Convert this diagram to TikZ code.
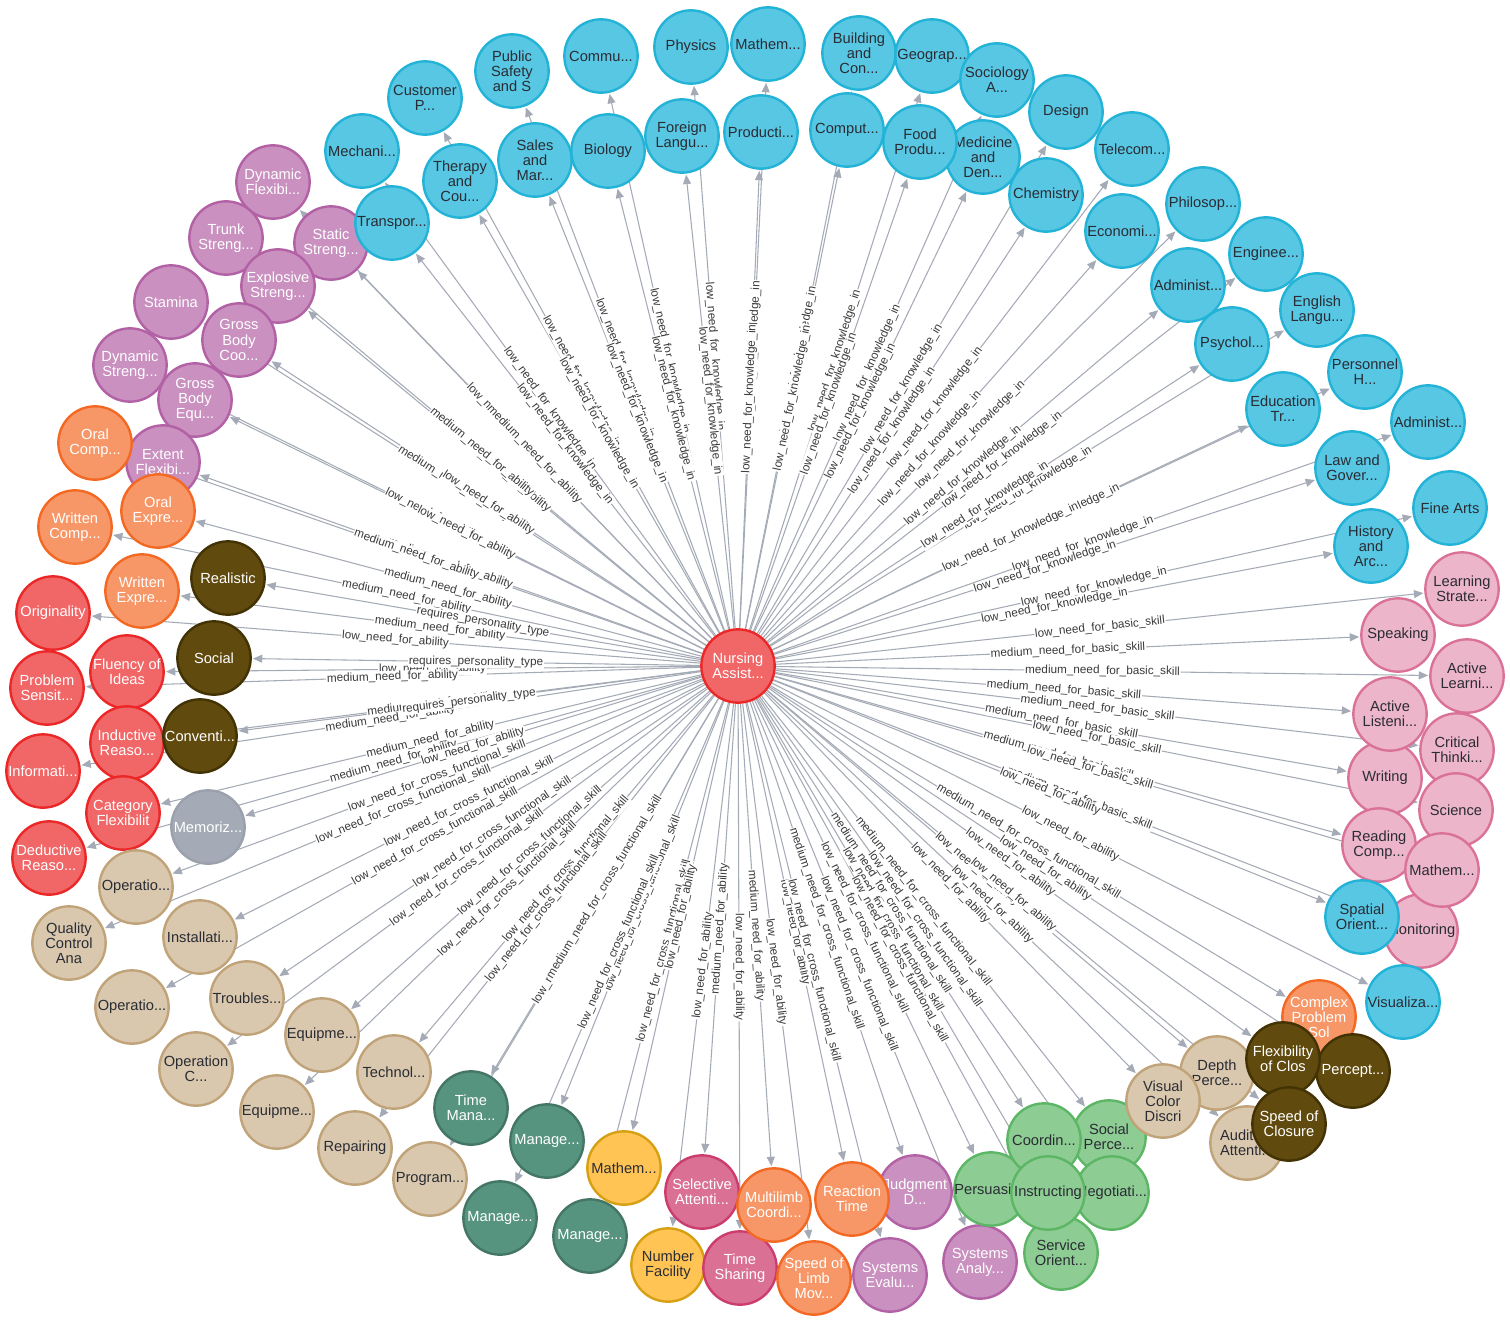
\documentclass[tikz,border=0pt]{standalone}
\usepackage{fontspec}
\setmainfont{Liberation Sans}
\usetikzlibrary{arrows.meta}
\definecolor{cKnF}{HTML}{57C7E3}\definecolor{cKnD}{HTML}{23B3D7}
\definecolor{cBsF}{HTML}{EDB5C9}\definecolor{cBsD}{HTML}{DA7298}
\definecolor{cPhF}{HTML}{C990C0}\definecolor{cPhD}{HTML}{B261A5}
\definecolor{cOgF}{HTML}{F79767}\definecolor{cOgD}{HTML}{F36924}
\definecolor{cRdF}{HTML}{F16667}\definecolor{cRdD}{HTML}{EB2728}
\definecolor{cBrF}{HTML}{604A0E}\definecolor{cBrD}{HTML}{423204}
\definecolor{cGyF}{HTML}{A5ABB6}\definecolor{cGyD}{HTML}{9AA1AC}
\definecolor{cTnF}{HTML}{D9C8AE}\definecolor{cTnD}{HTML}{C0A378}
\definecolor{cDgF}{HTML}{569480}\definecolor{cDgD}{HTML}{447666}
\definecolor{cYlF}{HTML}{FFC454}\definecolor{cYlD}{HTML}{D7A013}
\definecolor{cDpF}{HTML}{DA7194}\definecolor{cDpD}{HTML}{CC3C6C}
\definecolor{cLgF}{HTML}{8DCC93}\definecolor{cLgD}{HTML}{5DB665}
\definecolor{cDark}{HTML}{2A2C34}
\definecolor{cEdge}{HTML}{A5ABB6}
\definecolor{cLab}{HTML}{3A3A3A}
\pgfdeclarelayer{bg}\pgfdeclarelayer{edges}\pgfdeclarelayer{elabels}
\pgfsetlayers{bg,edges,elabels,main}
\tikzset{
  nb/.style={circle, minimum size=55pt, inner sep=0pt, line width=1.8pt},
  nt/.style={draw=none, fill=none, inner sep=0pt, align=center, font=\fontsize{11}{11.4}\selectfont},
  kn/.style={fill=cKnF, draw=cKnD, text=cDark},
  bs/.style={fill=cBsF, draw=cBsD, text=cDark},
  ph/.style={fill=cPhF, draw=cPhD, text=white},
  og/.style={fill=cOgF, draw=cOgD, text=white},
  rd/.style={fill=cRdF, draw=cRdD, text=white},
  br/.style={fill=cBrF, draw=cBrD, text=white},
  gy/.style={fill=cGyF, draw=cGyD, text=white},
  tn/.style={fill=cTnF, draw=cTnD, text=cDark},
  dg/.style={fill=cDgF, draw=cDgD, text=white},
  yl/.style={fill=cYlF, draw=cYlD, text=cDark},
  dp/.style={fill=cDpF, draw=cDpD, text=white},
  lg/.style={fill=cLgF, draw=cLgD, text=cDark},
  edgeline/.style={draw=cEdge, line width=0.8pt, -{Triangle[length=7pt,width=6pt]}, shorten >=0.8pt},
  elab/.style={font=\fontsize{8.8}{9.5}\selectfont, text=cLab, fill=white, inner sep=0.6pt}
}
\newcommand\mknode[5]{\node[nb,#4] (#1) at (#2,#3) {}; \node[#4,nt] at (#1.center) {#5};}
\def\lk{low\_need\_for\_knowledge\_in}
\def\la{low\_need\_for\_ability}
\def\ma{medium\_need\_for\_ability}
\def\lb{low\_need\_for\_basic\_skill}
\def\mb{medium\_need\_for\_basic\_skill}
\def\lc{low\_need\_for\_cross\_functional\_skill}
\def\mc{medium\_need\_for\_cross\_functional\_skill}
\def\rp{requires\_personality\_type}
\def\edgelist{cp/\lk, ps/\lk, cm/\lk, phy/\lk, mth/\lk, bld/\lk, geo/\lk, sog/\lk, des/\lk, tel/\lk,
 mec/\lk, thr/\lk, sal/\lk, bio/\lk, frl/\lk, prd/\lk, cmp/\lk, med/\lk, fdp/\lk, chm/\lk, trn/\lk,
 eco/\lk, phl/\lk, eng/\lk, adA/\lk, enl/\lk, psy/\lk, pers/\lk, edu/\lk, adB/\lk, law/\lk, fin/\lk, his/\lk,
 lrn/\lb, spk/\mb, alr/\mb, alis/\mb, crt/\mb, wri/\mb, sci/\lb, rdc/\mb, mpk/\lb, mon/\mb, spo/\la, vis/\la,
 dfx/\la, stt/\ma, exp/\la, trk/\ma, sta/\ma, gbc/\la, dst/\la, gbe/\la, ext/\ma, ocp/\ma, oex/\ma, wcp/\ma,
 wex/\ma, org/\la, flu/\la, prs/\ma, ind/\ma, inf/\ma, cat/\ma, ded/\ma, mem/\la,
 rea/\rp, socl/\rp, con/\rp,
 opa/\lc, qca/\lc, ins/\lc, opb/\lc, trb/\lc, opc/\lc, eqa/\lc, eqb/\lc, tec/\lc, rep/\lc, prg/\lc,
 tmm/\mc, mga/\lc, mgb/\lc, mgc/\lc,
 mty/\la, num/\la, sel/\ma, tsh/\la, mlt/\ma, spl/\la, rct/\la, jdg/\mc, sev/\lc, san/\lc,
 prsu/\lc, crd/\mc, sop/\mc, inst/\lc, neg/\lc, svc/\lc,
 vcd/\la, dep/\la, aud/\la, flc/\la, spc/\la, pct/\la, cps/\mc}
\begin{document}
\begin{tikzpicture}[x=0.75pt,y=-0.75pt]
\useasboundingbox (0,0) rectangle (1510,1320);
\begin{pgfonlayer}{bg}
\fill[white] (0,0) rectangle (1510,1320);
\end{pgfonlayer}
% knowledge (top)
\mknode{cp}{425}{98}{kn}{Customer\\P...}
\mknode{ps}{512}{71}{kn}{Public\\Safety\\and S}
\mknode{cm}{601}{56}{kn}{Commu...}
\mknode{phy}{691}{47}{kn}{Physics}
\mknode{mth}{768}{44}{kn}{Mathem...}
\mknode{bld}{859}{53}{kn}{Building\\and\\Con...}
\mknode{geo}{932}{56}{kn}{Geograp...}
\mknode{sog}{997}{80}{kn}{Sociology\\A...}
\mknode{des}{1066}{112}{kn}{Design}
\mknode{tel}{1132}{149}{kn}{Telecom...}
\mknode{mec}{362}{151}{kn}{Mechani...}
\mknode{thr}{460}{181}{kn}{Therapy\\and\\Cou...}
\mknode{sal}{535}{160}{kn}{Sales\\and\\Mar...}
\mknode{bio}{608}{151}{kn}{Biology}
\mknode{frl}{682}{136}{kn}{Foreign\\Langu...}
\mknode{prd}{761}{132}{kn}{Producti...}
\mknode{cmp}{847}{130}{kn}{Comput...}
\mknode{med}{983}{157}{kn}{Medicine\\and\\Den...}
\mknode{fdp}{920}{142}{kn}{Food\\Produ...}
\mknode{chm}{1046}{195}{kn}{Chemistry}
\mknode{eco}{1122}{231}{kn}{Economi...}
\mknode{phl}{1203}{204}{kn}{Philosop...}
\mknode{eng}{1266}{254}{kn}{Enginee...}
\mknode{adA}{1188}{285}{kn}{Administ...}
\mknode{enl}{1317}{310}{kn}{English\\Langu...}
\mknode{psy}{1232}{344}{kn}{Psychol...}
\mknode{pers}{1365}{372}{kn}{Personnel\\H...}
\mknode{edu}{1283}{409}{kn}{Education\\Tr...}
\mknode{adB}{1428}{422}{kn}{Administ...}
\mknode{law}{1352}{468}{kn}{Law and\\Gover...}
\mknode{fin}{1450}{508}{kn}{Fine Arts}
\mknode{his}{1371}{546}{kn}{History\\and\\Arc...}
% basic skills (right)
\mknode{lrn}{1462}{589}{bs}{Learning\\Strate...}
\mknode{spk}{1398}{635}{bs}{Speaking}
\mknode{alr}{1467}{676}{bs}{Active\\Learni...}
\mknode{crt}{1457}{750}{bs}{Critical\\Thinki...}
\mknode{wri}{1385}{778}{bs}{Writing}
\mknode{alis}{1390}{714}{bs}{Active\\Listeni...}
\mknode{sci}{1456}{810}{bs}{Science}
\mknode{rdc}{1379}{845}{bs}{Reading\\Comp...}
\mknode{mon}{1421}{931}{bs}{Monitoring}
\mknode{mpk}{1442}{870}{bs}{Mathem...}
\mknode{spo}{1362}{917}{kn}{Spatial\\Orient...}
\mknode{vis}{1403}{1002}{kn}{Visualiza...}
% abilities (left)
\mknode{dfx}{273}{182}{ph}{Dynamic\\Flexibi...}
\mknode{trk}{226}{238}{ph}{Trunk\\Streng...}
\mknode{stt}{331}{243}{ph}{Static\\Streng...}
\mknode{trn}{392}{223}{kn}{Transpor...}
\mknode{exp}{278}{286}{ph}{Explosive\\Streng...}
\mknode{sta}{171}{302}{ph}{Stamina}
\mknode{gbc}{239}{340}{ph}{Gross\\Body\\Coo...}
\mknode{dst}{130}{365}{ph}{Dynamic\\Streng...}
\mknode{gbe}{195}{400}{ph}{Gross\\Body\\Equ...}
\mknode{ext}{163}{462}{ph}{Extent\\Flexibi...}
\mknode{ocp}{95}{443}{og}{Oral\\Comp...}
\mknode{wcp}{75}{527}{og}{Written\\Comp...}
\mknode{oex}{158}{511}{og}{Oral\\Expre...}
\mknode{wex}{142}{591}{og}{Written\\Expre...}
\mknode{org}{53}{613}{rd}{Originality}
\mknode{rea}{228}{578}{br}{Realistic}
\mknode{prs}{47}{688}{rd}{Problem\\Sensit...}
\mknode{flu}{127}{672}{rd}{Fluency of\\Ideas}
\mknode{socl}{214}{658}{br}{Social}
\mknode{ind}{127}{743}{rd}{Inductive\\Reaso...}
\mknode{con}{200}{736}{br}{Conventi...}
\mknode{inf}{43}{771}{rd}{Informati...}
\mknode{cat}{123}{813}{rd}{Category\\Flexibilit}
\mknode{ded}{49}{858}{rd}{Deductive\\Reaso...}
\mknode{mem}{208}{827}{gy}{Memoriz...}
% cross functional skills (bottom left)
\mknode{opa}{136}{887}{tn}{Operatio...}
\mknode{qca}{69}{943}{tn}{Quality\\Control\\Ana}
\mknode{ins}{200}{937}{tn}{Installati...}
\mknode{opb}{132}{1007}{tn}{Operatio...}
\mknode{trb}{247}{998}{tn}{Troubles...}
\mknode{opc}{196}{1069}{tn}{Operation\\C...}
\mknode{eqa}{322}{1035}{tn}{Equipme...}
\mknode{eqb}{277}{1112}{tn}{Equipme...}
\mknode{tec}{394}{1072}{tn}{Technol...}
\mknode{rep}{355}{1148}{tn}{Repairing}
\mknode{prg}{430}{1179}{tn}{Program...}
\mknode{tmm}{471}{1108}{dg}{Time\\Mana...}
\mknode{mga}{547}{1141}{dg}{Manage...}
\mknode{mgb}{500}{1218}{dg}{Manage...}
\mknode{mgc}{590}{1236}{dg}{Manage...}
% bottom
\mknode{mty}{624}{1168}{yl}{Mathem...}
\mknode{sel}{702}{1192}{dp}{Selective\\Attenti...}
\mknode{num}{668}{1265}{yl}{Number\\Facility}
\mknode{tsh}{740}{1268}{dp}{Time\\Sharing}
\mknode{mlt}{774}{1205}{og}{Multilimb\\Coordi...}
\mknode{spl}{814}{1278}{og}{Speed of\\Limb\\Mov...}
\mknode{jdg}{915}{1192}{ph}{Judgment\\D...}
\mknode{rct}{852}{1199}{og}{Reaction\\Time}
\mknode{sev}{890}{1275}{ph}{Systems\\Evalu...}
\mknode{san}{980}{1262}{ph}{Systems\\Analy...}
\mknode{prsu}{991}{1189}{lg}{Persuasion}
\mknode{sop}{1109}{1137}{lg}{Social\\Perce...}
\mknode{crd}{1044}{1140}{lg}{Coordin...}
\mknode{neg}{1112}{1193}{lg}{Negotiati...}
\mknode{svc}{1061}{1253}{lg}{Service\\Orient...}
\mknode{inst}{1048}{1193}{lg}{Instructing}
\mknode{dep}{1217}{1073}{tn}{Depth\\Perce...}
\mknode{vcd}{1163}{1101}{tn}{Visual\\Color\\Discri}
\mknode{aud}{1247}{1143}{tn}{Auditory\\Attenti...}
\mknode{cps}{1319}{1017}{og}{Complex\\Problem\\Sol}
\mknode{pct}{1353}{1071}{br}{Percept...}
\mknode{flc}{1283}{1059}{br}{Flexibility\\of Clos}
\mknode{spc}{1289}{1124}{br}{Speed of\\Closure}
% centre
\mknode{na}{738}{666}{rd}{Nursing\\Assist...}
% connectors
\begin{pgfonlayer}{edges}
\foreach \n/\l in \edgelist { \draw[edgeline] (na) -- (\n); }
\end{pgfonlayer}
\begin{pgfonlayer}{elabels}
\foreach \n/\l in \edgelist { \path (na) -- node[elab, sloped] {\l} (\n); }
\end{pgfonlayer}
\end{tikzpicture}
\end{document}
